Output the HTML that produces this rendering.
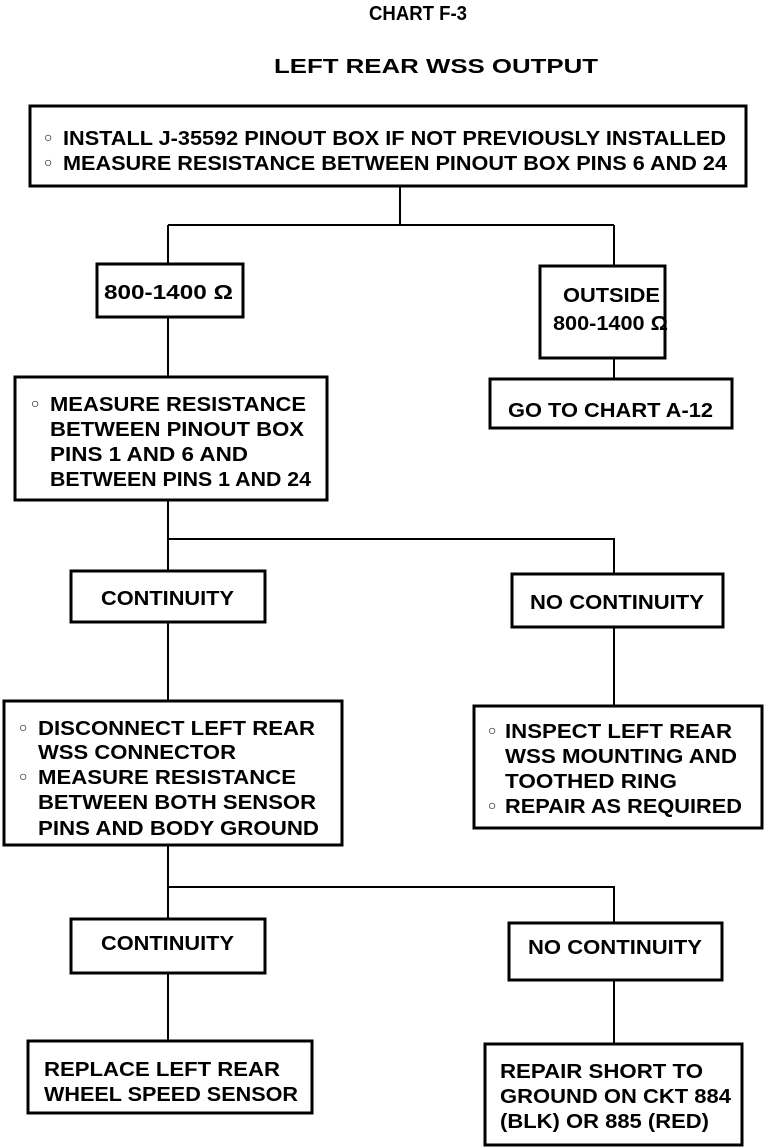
<!DOCTYPE html>
<html><head><meta charset="utf-8"><style>
html,body{margin:0;padding:0;background:#fff}
svg{display:block}
text{font-family:"Liberation Sans",sans-serif;font-weight:bold;font-size:20px;fill:#000}
.b{font-size:14px;font-weight:normal}
</style></head><body>
<svg width="768" height="1148" viewBox="0 0 768 1148" xmlns="http://www.w3.org/2000/svg">
<g fill="none" stroke="#000" stroke-width="3">
<rect x="30" y="106" width="716" height="80"/>
<rect x="97" y="264" width="146" height="53"/>
<rect x="540" y="266" width="125" height="92"/>
<rect x="490" y="379" width="242" height="49"/>
<rect x="15" y="377" width="312" height="123"/>
<rect x="71" y="571" width="194" height="51"/>
<rect x="512" y="574" width="211" height="53"/>
<rect x="4" y="701" width="338" height="144"/>
<rect x="474" y="706" width="288" height="122"/>
<rect x="71" y="919" width="194" height="54"/>
<rect x="509" y="923" width="213" height="57"/>
<rect x="28" y="1041" width="284" height="72"/>
<rect x="485" y="1044" width="257" height="101"/>
</g>
<g fill="none" stroke="#000" stroke-width="2">
<path d="M400 186V225M168 225H614M168 225V264M614 225V266"/>
<path d="M614 358V379M168 317V377"/>
<path d="M168 500V571M168 539H614V574"/>
<path d="M168 622V701M614 627V706"/>
<path d="M168 845V919M168 887H614V923"/>
<path d="M168 973V1041M614 980V1044"/>
</g>
<text x="369" y="20" textLength="98" lengthAdjust="spacingAndGlyphs">CHART F-3</text>
<text x="274" y="73" textLength="324" lengthAdjust="spacingAndGlyphs">LEFT REAR WSS OUTPUT</text>
<text class="b" x="44" y="142">○</text><text class="b" x="44" y="167">○</text>
<text x="63" y="145" textLength="663" lengthAdjust="spacingAndGlyphs">INSTALL J-35592 PINOUT BOX IF NOT PREVIOUSLY INSTALLED</text>
<text x="63" y="170" textLength="664" lengthAdjust="spacingAndGlyphs">MEASURE RESISTANCE BETWEEN PINOUT BOX PINS 6 AND 24</text>
<text x="104" y="299" textLength="129" lengthAdjust="spacingAndGlyphs">800-1400 Ω</text>
<text x="563" y="302" textLength="97" lengthAdjust="spacingAndGlyphs">OUTSIDE</text>
<text x="553" y="330" textLength="115" lengthAdjust="spacingAndGlyphs">800-1400 Ω</text>
<text x="508" y="417" textLength="205" lengthAdjust="spacingAndGlyphs">GO TO CHART A-12</text>
<text class="b" x="31" y="408">○</text>
<text x="50" y="411" textLength="256" lengthAdjust="spacingAndGlyphs">MEASURE RESISTANCE</text>
<text x="50" y="436" textLength="254" lengthAdjust="spacingAndGlyphs">BETWEEN PINOUT BOX</text>
<text x="50" y="461" textLength="198" lengthAdjust="spacingAndGlyphs">PINS 1 AND 6 AND</text>
<text x="50" y="486" textLength="261" lengthAdjust="spacingAndGlyphs">BETWEEN PINS 1 AND 24</text>
<text x="101" y="605" textLength="133" lengthAdjust="spacingAndGlyphs">CONTINUITY</text>
<text x="530" y="609" textLength="174" lengthAdjust="spacingAndGlyphs">NO CONTINUITY</text>
<text class="b" x="19" y="732">○</text><text class="b" x="19" y="781">○</text>
<text x="38" y="735" textLength="277" lengthAdjust="spacingAndGlyphs">DISCONNECT LEFT REAR</text>
<text x="38" y="759" textLength="198" lengthAdjust="spacingAndGlyphs">WSS CONNECTOR</text>
<text x="38" y="784" textLength="258" lengthAdjust="spacingAndGlyphs">MEASURE RESISTANCE</text>
<text x="38" y="809" textLength="278" lengthAdjust="spacingAndGlyphs">BETWEEN BOTH SENSOR</text>
<text x="38" y="835" textLength="281" lengthAdjust="spacingAndGlyphs">PINS AND BODY GROUND</text>
<text class="b" x="488" y="735">○</text><text class="b" x="488" y="810">○</text>
<text x="505" y="738" textLength="227" lengthAdjust="spacingAndGlyphs">INSPECT LEFT REAR</text>
<text x="505" y="763" textLength="232" lengthAdjust="spacingAndGlyphs">WSS MOUNTING AND</text>
<text x="505" y="788" textLength="172" lengthAdjust="spacingAndGlyphs">TOOTHED RING</text>
<text x="505" y="813" textLength="237" lengthAdjust="spacingAndGlyphs">REPAIR AS REQUIRED</text>
<text x="101" y="950" textLength="133" lengthAdjust="spacingAndGlyphs">CONTINUITY</text>
<text x="528" y="954" textLength="174" lengthAdjust="spacingAndGlyphs">NO CONTINUITY</text>
<text x="44" y="1076" textLength="236" lengthAdjust="spacingAndGlyphs">REPLACE LEFT REAR</text>
<text x="44" y="1101" textLength="254" lengthAdjust="spacingAndGlyphs">WHEEL SPEED SENSOR</text>
<text x="500" y="1078" textLength="203" lengthAdjust="spacingAndGlyphs">REPAIR SHORT TO</text>
<text x="500" y="1103" textLength="231" lengthAdjust="spacingAndGlyphs">GROUND ON CKT 884</text>
<text x="500" y="1128" textLength="209" lengthAdjust="spacingAndGlyphs">(BLK) OR 885 (RED)</text>
</svg>
</body></html>
